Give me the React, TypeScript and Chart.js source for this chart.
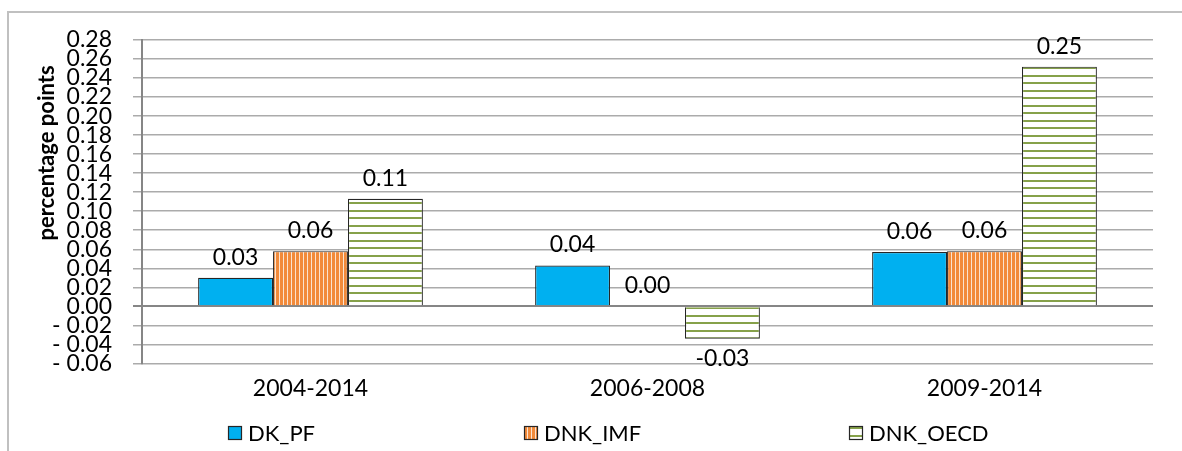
import React, { useEffect, useRef } from "react";
import { Chart, registerables } from "chart.js";

Chart.register(...registerables);

const categories = ["2004-2014", "2006-2008", "2009-2014"];
const seriesNames = ["DK_PF", "DNK_IMF", "DNK_OECD"];
const dkPf = [0.03, 0.043, 0.057];
const dnkImf = [0.058, 0.0, 0.058];
const dnkOecd = [0.113, -0.034, 0.252];
const yMin = -0.06;
const yMax = 0.28;
const yStep = 0.02;

const FONT = "Lato, 'Open Sans', sans-serif";

function makeOrangePattern(ctx: CanvasRenderingContext2D) {
  const c = document.createElement("canvas");
  c.width = 4;
  c.height = 4;
  const g = c.getContext("2d")!;
  g.fillStyle = "#F28A3A";
  g.fillRect(0, 0, 4, 4);
  g.fillStyle = "#FBE3CF";
  g.fillRect(3, 0, 1, 4);
  return ctx.createPattern(c, "repeat")!;
}

function makeGreenPattern(ctx: CanvasRenderingContext2D) {
  const c = document.createElement("canvas");
  c.width = 4;
  c.height = 15;
  const g = c.getContext("2d")!;
  g.fillStyle = "#ffffff";
  g.fillRect(0, 0, 4, 15);
  g.fillStyle = "#86A14A";
  g.fillRect(0, 0, 4, 2);
  g.fillRect(0, 7, 4, 2);
  return ctx.createPattern(c, "repeat")!;
}

export default function App() {
  const ref = useRef<HTMLCanvasElement | null>(null);

  useEffect(() => {
    document.body.style.margin = "0";
    const canvas = ref.current!;
    const ctx = canvas.getContext("2d")!;
    const fills = ["#00B0F0", makeOrangePattern(ctx), makeGreenPattern(ctx)];
    const values = [dkPf, dnkImf, dnkOecd];

    const decor = {
      id: "decor",
      beforeDraw(chart: any) {
        const c = chart.ctx;
        c.save();
        c.strokeStyle = "#c0c0c0";
        c.lineWidth = 2;
        c.strokeRect(8, 12, chart.width + 20, chart.height + 20);
        c.restore();
      },
      afterDatasetsDraw(chart: any) {
        const c = chart.ctx;
        c.save();
        c.fillStyle = "#000";
        c.font = `23px ${FONT}`;
        c.textAlign = "center";
        c.textBaseline = "alphabetic";
        chart.data.datasets.forEach((ds: any, di: number) => {
          const meta = chart.getDatasetMeta(di);
          meta.data.forEach((bar: any, i: number) => {
            const v = ds.data[i] as number;
            const txt = v.toFixed(2);
            const y = v >= 0 ? bar.y - 13 : bar.y + 27;
            c.fillText(txt, bar.x, y);
          });
        });
        // y title
        c.save();
        c.translate(47, 153);
        c.rotate(-Math.PI / 2);
        c.font = `bold 22px ${FONT}`;
        c.textAlign = "center";
        c.textBaseline = "middle";
        c.fillText("percentage points", 0, 0);
        c.restore();
        // legend
        const boxX = [228, 524, 849];
        const ly = 433;
        c.font = `22px ${FONT}`;
        c.textAlign = "left";
        c.textBaseline = "middle";
        seriesNames.forEach((name, i) => {
          const bx = boxX[i];
          c.fillStyle = fills[i] as any;
          c.fillRect(bx, ly - 7, 14, 14);
          c.strokeStyle = "#262626";
          c.lineWidth = 1.2;
          c.strokeRect(bx + 0.5, ly - 6.5, 13, 13);
          c.fillStyle = "#000";
          c.fillText(name, bx + 20, ly + 1);
        });
        c.restore();
      },
    };

    const chart = new Chart(canvas, {
      type: "bar",
      data: {
        labels: categories,
        datasets: seriesNames.map((name, i) => ({
          label: name,
          data: values[i],
          backgroundColor: fills[i] as any,
          borderColor: "#262626",
          borderWidth: 1.2,
          categoryPercentage: 0.667,
          barPercentage: 1.0,
        })),
      },
      options: {
        animation: false,
        responsive: false,
        layout: { padding: { left: 0, top: 40, right: 29, bottom: 38 } },
        plugins: {
          legend: { display: false },
          tooltip: { enabled: false },
        },
        scales: {
          x: {
            grid: { display: false, drawTicks: false },
            border: { display: false },
            ticks: {
              color: "#000",
              font: { family: FONT, size: 23 },
              padding: 11,
            },
          },
          y: {
            min: yMin,
            max: yMax,
            afterFit: (scale: any) => {
              scale.width = 142;
            },
            ticks: {
              stepSize: yStep,
              autoSkip: false,
              color: "#000",
              font: { family: FONT, size: 23, lineHeight: 1 },
              padding: 21,
              callback: (v: any) => {
                const r = Math.round(Number(v) * 100) / 100;
                return r < 0 ? "- " + Math.abs(r).toFixed(2) : r.toFixed(2);
              },
            },
            grid: {
              color: (c: any) =>
                Math.abs(c.tick?.value ?? 1) < 1e-9 ? "#868686" : "#ababab",
              lineWidth: (c: any) =>
                Math.abs(c.tick?.value ?? 1) < 1e-9 ? 2 : 1.5,
              tickLength: 9,
            },
            border: { display: true, color: "#868686", width: 2 },
          },
        },
      },
      plugins: [decor],
    });
    return () => chart.destroy();
  }, []);

  return (
    <div style={{ width: 1182, height: 451 }}>
      <canvas ref={ref} width={1182} height={451} style={{ display: "block" }} />
    </div>
  );
}
